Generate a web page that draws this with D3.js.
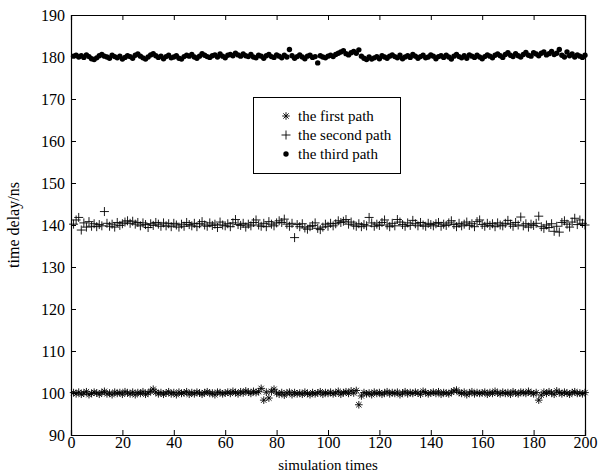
<!DOCTYPE html>
<html><head><meta charset="utf-8">
<script src="https://cdn.jsdelivr.net/npm/d3@7"></script>
<style>body{margin:0;background:#fff}svg text{font-family:"Liberation Serif","Times New Roman","DejaVu Serif",serif !important;fill:#000}</style>
</head><body><svg id="c" width="600" height="473"></svg>
<script>
const xTicks=[0,20,40,60,80,100,120,140,160,180,200];
const yTicks=[90,100,110,120,130,140,150,160,170,180,190];
const seriesNames=["the first path","the second path","the third path"];
const firstPath=[100.1,99.8,100.2,99.7,100.0,100.3,99.6,99.9,100.2,100.0,99.7,100.1,100.4,99.8,100.0,99.6,100.2,99.9,100.1,99.7,
100.3,100.0,99.8,100.2,99.6,100.1,99.9,100.3,99.7,100.0,100.4,100.9,100.2,99.8,100.1,99.7,100.0,100.3,99.8,100.1,
99.6,100.2,99.9,100.0,100.3,99.7,100.1,99.8,100.2,100.0,99.7,100.1,100.3,99.9,100.0,99.6,100.2,100.1,99.8,100.0,
100.2,99.9,100.4,100.1,99.8,100.3,100.0,100.5,100.2,99.9,100.4,100.1,100.3,101.1,98.3,100.2,98.8,100.4,100.9,100.0,
99.7,100.1,99.5,100.0,100.2,99.6,100.1,99.8,100.0,99.7,100.2,99.9,99.6,100.1,99.8,100.0,100.3,99.7,100.1,99.9,
100.2,99.8,100.0,100.4,99.7,100.1,100.3,99.9,100.5,100.0,100.6,97.2,99.3,100.1,99.8,100.0,99.6,100.2,99.9,100.1,
99.7,100.0,100.3,99.8,100.1,99.9,100.2,99.6,100.0,100.3,99.8,100.1,99.9,100.2,100.0,99.7,100.4,100.1,99.8,100.0,
100.2,99.9,100.3,99.7,100.1,100.0,99.8,100.2,100.5,100.7,100.1,99.9,100.2,99.6,100.0,100.3,99.8,100.1,99.9,100.0,
100.2,99.7,100.1,99.9,100.4,100.0,99.8,100.2,99.9,100.1,99.7,100.3,100.0,99.8,100.2,100.1,99.9,100.4,100.0,99.8,
100.1,98.3,99.5,100.2,99.9,100.3,100.0,99.7,100.5,100.1,99.8,100.2,100.0,99.7,100.1,100.3,99.9,100.0,99.8,100.1];
const secondPath=[140.2,141.2,141.8,138.8,140.5,139.5,140.8,139.7,140.3,139.6,140.1,139.8,143.2,140.4,139.7,140.2,139.5,140.6,139.9,140.3,
140.7,141.0,140.4,140.9,140.2,140.6,139.8,140.5,140.1,139.4,140.3,139.9,140.6,140.2,139.7,140.5,139.8,140.3,139.6,140.4,
140.0,139.5,140.2,139.7,140.6,140.1,139.8,140.4,139.6,140.3,140.8,140.0,139.7,140.5,139.9,140.2,139.4,140.7,140.0,139.8,
140.3,139.6,140.5,141.3,140.1,139.9,140.4,139.5,140.2,139.8,140.6,141.2,140.0,139.7,140.4,139.6,140.8,140.2,139.8,140.5,
141.0,140.6,141.4,140.2,139.7,140.4,137.0,140.1,139.6,140.3,139.3,139.0,139.6,139.9,140.5,139.2,138.9,139.5,140.2,139.7,
140.4,139.8,140.3,141.0,140.6,140.9,141.3,140.2,140.7,140.0,139.7,140.3,139.6,140.1,139.8,141.8,140.5,139.7,140.2,139.9,
140.6,141.2,140.0,139.6,140.4,139.8,141.3,140.7,140.1,139.7,140.5,139.9,141.1,140.3,139.8,140.6,140.0,139.7,140.4,140.1,
139.8,140.3,140.6,139.7,140.2,139.9,140.5,141.0,140.1,139.6,140.4,139.8,140.2,140.7,139.9,140.3,139.6,140.8,141.2,140.1,
139.7,140.4,139.9,140.3,139.6,140.5,140.0,139.8,140.4,141.1,140.2,139.7,140.6,140.0,141.9,139.8,140.3,139.5,140.2,139.9,
140.4,142.1,139.6,139.2,140.0,139.4,140.3,138.5,139.7,138.3,140.6,141.0,140.2,139.5,140.7,141.6,140.1,141.2,140.4,140.0];
const thirdPath=[180.2,180.4,180.0,180.3,179.9,180.5,180.1,179.6,179.4,179.8,180.3,180.6,180.2,180.0,179.7,180.4,180.1,179.8,180.2,179.5,
179.9,180.3,180.1,179.7,180.4,180.7,180.2,179.8,179.5,180.0,180.5,180.8,180.3,179.9,180.2,179.6,180.1,180.4,179.8,180.0,
180.3,179.7,179.5,180.1,180.4,180.2,180.6,180.0,179.7,180.2,180.8,180.4,180.1,179.9,180.3,180.5,180.0,180.7,180.2,179.8,
180.4,180.6,180.3,180.9,180.5,180.2,180.7,180.3,180.1,180.6,180.0,179.8,180.4,180.2,179.7,180.3,180.6,180.1,179.9,180.5,
180.2,179.8,180.4,180.0,181.8,180.3,179.7,180.1,180.5,180.0,179.6,180.2,180.4,179.9,180.1,178.6,180.3,180.0,179.8,180.2,
180.4,180.1,180.6,180.9,181.2,181.5,180.8,180.5,181.0,181.3,180.9,181.7,180.2,179.7,179.4,180.0,179.5,179.8,180.1,179.6,
180.3,180.0,179.7,180.2,180.5,180.1,179.8,180.4,179.6,180.0,180.3,179.9,180.6,180.2,179.7,180.1,180.4,179.8,180.0,180.5,
180.2,179.6,180.1,180.3,179.9,180.4,180.0,179.5,180.2,180.6,180.1,179.8,180.3,179.7,180.5,180.2,179.9,180.4,180.0,179.6,
180.1,180.5,180.2,179.8,180.4,180.7,180.3,179.9,180.6,181.0,180.4,180.1,180.8,180.3,180.0,180.6,181.1,180.4,180.2,181.0,
180.7,180.3,180.9,181.2,180.5,180.8,181.3,180.6,180.9,181.8,180.4,180.0,181.2,180.3,180.7,180.0,180.5,180.2,179.9,180.4];
const simTimes=firstPath.map((_,i)=>i+1);

const FONT='"Liberation Serif","Times New Roman","DejaVu Serif",serif';
const svg=d3.select("#c");
const L=71,R=585,T=15,B=435;
const x=d3.scaleLinear().domain([0,200]).range([L,R]);
const y=d3.scaleLinear().domain([90,190]).range([B,T]);

const star=(s)=>`M${-s},0H${s}M0,${-s}V${s}M${-s*0.7},${-s*0.7}L${s*0.7},${s*0.7}M${-s*0.7},${s*0.7}L${s*0.7},${-s*0.7}`;
const plus=(s)=>`M${-s},0H${s}M0,${-s}V${s}`;

const g=svg.append("g");
const xAxis=d3.axisBottom(x).tickValues(xTicks).tickSize(-5).tickPadding(2);
const yAxis=d3.axisLeft(y).tickValues(yTicks).tickSize(-5).tickPadding(6);
const gx=g.append("g").attr("transform",`translate(0,${B})`).call(xAxis);
const gy=g.append("g").attr("transform",`translate(${L},0)`).call(yAxis);
g.append("g").attr("transform",`translate(0,${T})`).call(d3.axisTop(x).tickValues(xTicks).tickSize(-5).tickFormat(""));
g.append("g").attr("transform",`translate(${R},0)`).call(d3.axisRight(y).tickValues(yTicks).tickSize(-5).tickFormat(""));
g.selectAll("g").attr("font-family",FONT);
g.selectAll(".domain").attr("stroke","#000").attr("stroke-width",1.2);
g.selectAll(".tick line").attr("stroke","#000");
gx.selectAll("text").attr("font-size",16).style("font-family",FONT);
gy.selectAll("text").attr("font-size",16).style("font-family",FONT);

const pts=svg.append("g");
pts.selectAll(".s1").data(firstPath).join("path").attr("class","s1")
 .attr("transform",(d,i)=>`translate(${x(simTimes[i])},${y(d)})`)
 .attr("d",star(3.8)).attr("stroke","#000").attr("stroke-width",0.9).attr("fill","none");
pts.selectAll(".s2").data(secondPath).join("path").attr("class","s2")
 .attr("transform",(d,i)=>`translate(${x(simTimes[i])},${y(d)})`)
 .attr("d",plus(4.5)).attr("stroke","#000").attr("stroke-width",0.9).attr("fill","none");
pts.selectAll(".s3").data(thirdPath).join("circle").attr("class","s3")
 .attr("cx",(d,i)=>x(simTimes[i])).attr("cy",d=>y(d)).attr("r",2.7).attr("fill","#000");

const lg=svg.append("g");
lg.append("rect").attr("x",253.5).attr("y",97.5).attr("width",147).attr("height",76).attr("fill","#fff").attr("stroke","#000").attr("stroke-width",1);
const rowsY=[116,135,154];
const symbols=[star(3.8),plus(4.5),null];
seriesNames.forEach((n,i)=>{
  if(symbols[i]) lg.append("path").attr("transform",`translate(286,${rowsY[i]})`).attr("d",symbols[i]).attr("stroke","#000").attr("stroke-width",0.9).attr("fill","none");
  else lg.append("circle").attr("cx",286).attr("cy",rowsY[i]).attr("r",2.7).attr("fill","#000");
  lg.append("text").attr("x",298).attr("y",rowsY[i]+5).attr("font-size",15).style("font-family",FONT).text(n);
});

svg.append("text").attr("x",(L+R)/2).attr("y",470).attr("text-anchor","middle").attr("font-size",15).style("font-family",FONT).text("simulation times");
svg.append("text").attr("transform",`translate(19,${(T+B)/2}) rotate(-90)`).attr("text-anchor","middle").attr("font-size",16).style("font-family",FONT).text("time delay/ns");
</script></body></html>
